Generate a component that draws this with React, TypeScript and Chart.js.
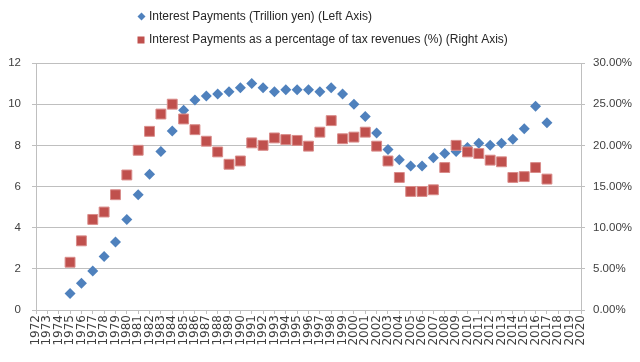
import React, { useEffect, useRef } from 'react';
import { Chart, registerables } from 'chart.js';

Chart.register(...registerables);

// ---- Data ----
const years = [
  1975, 1976, 1977, 1978, 1979, 1980, 1981, 1982, 1983, 1984,
  1985, 1986, 1987, 1988, 1989, 1990, 1991, 1992, 1993, 1994,
  1995, 1996, 1997, 1998, 1999, 2000, 2001, 2002, 2003, 2004,
  2005, 2006, 2007, 2008, 2009, 2010, 2011, 2012, 2013, 2014,
  2015, 2016, 2017,
];

// Interest payments (trillion yen) — left axis
const interestTrillionYen = [
  0.8, 1.3, 1.9, 2.6, 3.3, 4.4, 5.6, 6.6, 7.7, 8.7,
  9.7, 10.2, 10.4, 10.5, 10.6, 10.8, 11.0, 10.8, 10.6, 10.7,
  10.7, 10.7, 10.6, 10.8, 10.5, 10.0, 9.4, 8.6, 7.8, 7.3,
  7.0, 7.0, 7.4, 7.6, 7.7, 7.9, 8.1, 8.0, 8.1, 8.3,
  8.8, 9.9, 9.1,
];

// Interest payments as % of tax revenues — right axis
const interestPctOfTax = [
  5.8, 8.4, 11.0, 11.9, 14.0, 16.4, 19.4, 21.7, 23.8, 25.0,
  23.2, 21.9, 20.5, 19.2, 17.7, 18.1, 20.3, 20.0, 20.9, 20.7,
  20.6, 19.9, 21.6, 23.0, 20.8, 21.0, 21.6, 19.9, 18.1, 16.1,
  14.4, 14.4, 14.6, 17.3, 20.0, 19.2, 19.0, 18.2, 18.0, 16.1,
  16.2, 17.3, 15.9,
];

const xAxisFirstYear = 1972;
const xAxisLastYear = 2020;
const leftAxisMax = 12;
const leftAxisStep = 2;
const rightAxisMax = 30;
const rightAxisStep = 5;

const seriesLabels = [
  'Interest Payments (Trillion yen) (Left Axis)',
  'Interest Payments as a percentage of tax revenues (%) (Right Axis)',
];

const BLUE = '#4F81BD';
const RED = '#C0504D';
const GRID = '#bfbfbf';
const TEXT = '#404040';

const legendPlugin = {
  id: 'customLegend',
  afterDraw(chart: any) {
    const ctx = chart.ctx as CanvasRenderingContext2D;
    ctx.save();
    ctx.font = '12px "Liberation Sans"';
    ctx.fillStyle = '#262626';
    ctx.textBaseline = 'middle';
    ctx.textAlign = 'left';
    // item 1: diamond
    const y1 = 16.5;
    ctx.fillStyle = BLUE;
    ctx.beginPath();
    ctx.moveTo(141.5 - 4, y1);
    ctx.lineTo(141.5, y1 - 4);
    ctx.lineTo(141.5 + 4, y1);
    ctx.lineTo(141.5, y1 + 4);
    ctx.closePath();
    ctx.fill();
    ctx.fillStyle = '#262626';
    ctx.fillText(seriesLabels[0], 149, y1);
    // item 2: square
    const y2 = 40;
    ctx.fillStyle = RED;
    ctx.fillRect(137.5, y2 - 3.5, 7, 7);
    ctx.fillStyle = '#262626';
    ctx.fillText(seriesLabels[1], 149, y2);
    ctx.restore();
  },
};

export default function App() {
  const ref = useRef<HTMLCanvasElement | null>(null);

  useEffect(() => {
    document.body.style.margin = '0';
    const canvas = ref.current;
    if (!canvas) return;
    const chart = new Chart(canvas, {
      type: 'scatter',
      data: {
        datasets: [
          {
            label: seriesLabels[0],
            data: years.map((yr, i) => ({ x: yr, y: interestTrillionYen[i] })),
            yAxisID: 'y',
            pointStyle: 'rectRot',
            pointRadius: 5.5,
            pointBackgroundColor: BLUE,
            pointBorderColor: BLUE,
            pointBorderWidth: 0,
            backgroundColor: BLUE,
            borderColor: BLUE,
            showLine: false,
            order: 2,
          },
          {
            label: seriesLabels[1],
            data: years.map((yr, i) => ({ x: yr, y: interestPctOfTax[i] })),
            yAxisID: 'y1',
            pointStyle: 'rect',
            pointRadius: 7,
            pointBackgroundColor: RED,
            pointBorderColor: '#D98C8A',
            pointBorderWidth: 1,
            backgroundColor: RED,
            borderColor: RED,
            showLine: false,
            order: 1,
          },
        ],
      },
      options: {
        responsive: false,
        animation: false,
        layout: { padding: { top: 63, left: 0, right: 0, bottom: 0 } },
        plugins: {
          legend: { display: false },
          tooltip: { enabled: false },
        },
        scales: {
          x: {
            type: 'linear',
            position: 'bottom',
            min: xAxisFirstYear,
            max: xAxisLastYear,
            ticks: {
              stepSize: 1,
              autoSkip: false,
              maxRotation: 90,
              minRotation: 90,
              padding: 1,
              color: TEXT,
              font: { family: '"DejaVu Sans"', size: 12 },
              callback: (v: any) => String(v),
            },
            grid: {
              drawOnChartArea: false,
              drawTicks: true,
              tickLength: 4,
              color: GRID,
            },
            border: { color: GRID },
            afterFit: (s: any) => {
              s.height = 52;
            },
          },
          y: {
            type: 'linear',
            position: 'left',
            min: 0,
            max: leftAxisMax,
            ticks: {
              stepSize: leftAxisStep,
              padding: 11,
              color: TEXT,
              font: { family: '"Liberation Sans"', size: 11.5 },
            },
            grid: { color: GRID, tickLength: 4 },
            border: { color: GRID },
            afterFit: (s: any) => {
              s.width = 36;
            },
          },
          y1: {
            type: 'linear',
            position: 'right',
            min: 0,
            max: rightAxisMax,
            ticks: {
              stepSize: rightAxisStep,
              padding: 8,
              color: TEXT,
              font: { family: '"Liberation Sans"', size: 11.5 },
              callback: (v: any) => Number(v).toFixed(2) + '%',
            },
            grid: { drawOnChartArea: false, color: GRID, tickLength: 4 },
            border: { color: GRID },
            afterFit: (s: any) => {
              s.width = 59;
            },
          },
        },
      },
      plugins: [legendPlugin],
    } as any);
    return () => chart.destroy();
  }, []);

  return (
    <div style={{ width: 640, height: 362, background: '#fff' }}>
      <canvas ref={ref} width={640} height={362} style={{ display: 'block' }} />
    </div>
  );
}
